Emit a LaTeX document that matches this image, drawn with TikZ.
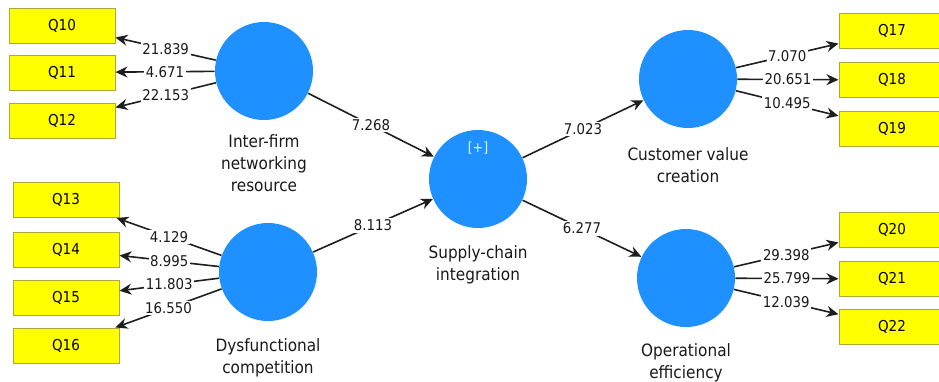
\documentclass[tikz,border=0pt]{standalone}
\usepackage{fontspec}
\setmainfont{DejaVu Sans}[FakeStretch=0.9]
\usetikzlibrary{arrows.meta}
\definecolor{lvblue}{RGB}{30,144,255}
\definecolor{mvyellow}{RGB}{255,255,0}
\definecolor{mvborder}{RGB}{170,170,60}
\definecolor{linegray}{RGB}{30,30,30}
\tikzset{
  latent/.style={circle, fill=lvblue, minimum size=49pt, inner sep=0pt},
  manifest/.style={rectangle, fill=mvyellow, draw=mvborder, line width=0.5pt,
    minimum width=53pt, minimum height=17.5pt, inner sep=0pt, font=\fontsize{7.5}{9}\selectfont},
  lvname/.style={align=center, font=\fontsize{8.5}{11}\selectfont, text=black!90},
  coef/.style={fill=white, inner sep=0.8pt, font=\fontsize{7.4}{9}\selectfont, text=black!90},
  link/.style={draw=linegray, line width=0.8pt, -{Stealth[length=6pt,width=5.5pt]}},
}
\begin{document}
\begin{tikzpicture}[x=0.5pt, y=-0.5pt]
  \useasboundingbox (0,0) rectangle (939,381);
  \clip (0,0) rectangle (939,381);
  %
  \node[latent] (ifn) at (264,71) {};          % inter-firm
  \node[latent] (dyc) at (268,272) {};         % dysfunctional
  \node[latent] (sci) at (478,179) {};         % supply-chain
  \node[latent] (cvc) at (688,79) {};          % customer value
  \node[latent] (ope) at (686,278) {};         % operational
  %
  \node[lvname] (ifnl) at (264,163) {Inter-firm\\networking\\resource};
  \node[lvname] (dycl) at (268,358) {Dysfunctional\\competition};
  \node[lvname] (scil) at (478,265) {Supply-chain\\integration};
  \node[lvname] (cvcl) at (688,165.5) {Customer value\\creation};
  \node[lvname] (opel) at (686,363) {Operational\\efficiency};
  \node[font=\fontsize{7}{8}\selectfont, text=white!90!lvblue] (plus) at (478,148) {[+]};
  %
  % indicators, left
  \node[manifest] (q10) at (62,25.5) {Q10};
  \node[manifest] (q11) at (62,72.5) {Q11};
  \node[manifest] (q12) at (62,120.5) {Q12};
  \node[manifest] (q13) at (66,200) {Q13};
  \node[manifest] (q14) at (66,249.5) {Q14};
  \node[manifest] (q15) at (66,297.5) {Q15};
  \node[manifest] (q16) at (66,345.5) {Q16};
  % indicators, right
  \node[manifest] (q17) at (892,31) {Q17};
  \node[manifest] (q18) at (892,80) {Q18};
  \node[manifest] (q19) at (892,129) {Q19};
  \node[manifest] (q20) at (892,230) {Q20};
  \node[manifest] (q21) at (892,279) {Q21};
  \node[manifest] (q22) at (892,327) {Q22};
  %
  % outer loadings
  \draw[link] (ifn) -- node[coef]{21.839} (q10);
  \draw[link] (ifn) -- node[coef]{4.671} (q11);
  \draw[link] (ifn) -- node[coef]{22.153} (q12);
  \draw[link] (dyc) -- node[coef]{4.129} (q13);
  \draw[link] (dyc) -- node[coef]{8.995} (q14);
  \draw[link] (dyc) -- node[coef]{11.803} (q15);
  \draw[link] (dyc) -- node[coef]{16.550} (q16);
  \draw[link] (cvc) -- node[coef]{7.070} (q17);
  \draw[link] (cvc) -- node[coef]{20.651} (q18);
  \draw[link] (cvc) -- node[coef]{10.495} (q19);
  \draw[link] (ope) -- node[coef]{29.398} (q20);
  \draw[link] (ope) -- node[coef]{25.799} (q21);
  \draw[link] (ope) -- node[coef]{12.039} (q22);
  %
  % inner paths
  \draw[link] (ifn) -- node[coef]{7.268} (sci);
  \draw[link] (dyc) -- node[coef]{8.113} (sci);
  \draw[link] (sci) -- node[coef]{7.023} (cvc);
  \draw[link] (sci) -- node[coef]{6.277} (ope);
\end{tikzpicture}
\end{document}
